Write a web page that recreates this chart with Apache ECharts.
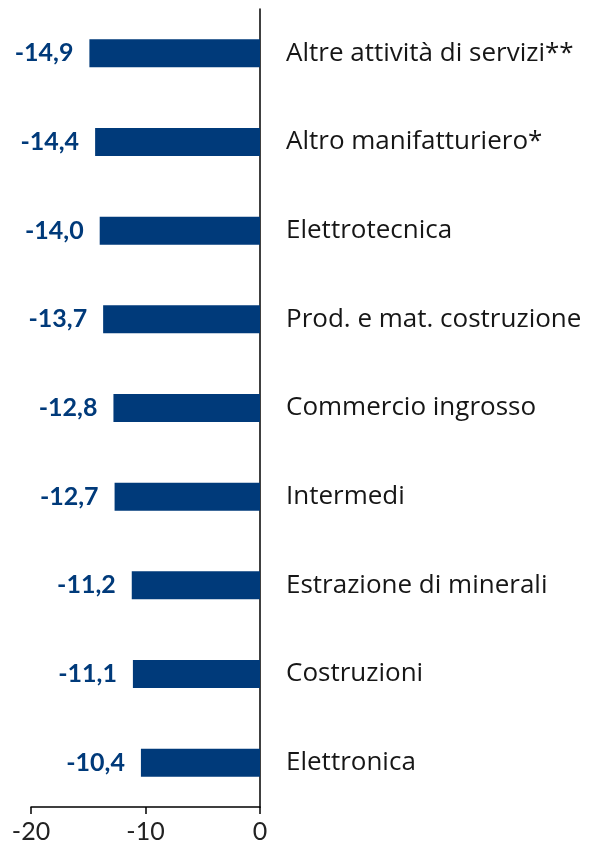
<!DOCTYPE html>
<html>
<head>
<meta charset="utf-8">
<script src="https://cdn.jsdelivr.net/npm/echarts@6/dist/echarts.min.js"></script>
<style>
html, body { margin: 0; padding: 0; background: #fff; }
#chart { width: 597px; height: 853px; }
</style>
</head>
<body>
<div id="chart"></div>
<script>
const categories = [
  'Altre attività di servizi**',
  'Altro manifatturiero*',
  'Elettrotecnica',
  'Prod. e mat. costruzione',
  'Commercio ingrosso',
  'Intermedi',
  'Estrazione di minerali',
  'Costruzioni',
  'Elettronica'
];
const values = [-14.9, -14.4, -14.0, -13.7, -12.8, -12.7, -11.2, -11.1, -10.4];

const FONT = 'Lato, "Open Sans", sans-serif';
const CAT_FONT = '"Open Sans", Lato, sans-serif';
const BLUE = '#003a7a';

const chart = echarts.init(document.getElementById('chart'), null, { renderer: 'canvas' });

chart.setOption({
  animation: false,
  backgroundColor: '#fff',
  grid: { left: 31, right: 337, top: 9, bottom: 46, containLabel: false },
  xAxis: {
    type: 'value',
    min: -20,
    max: 0,
    interval: 10,
    axisLine: { show: true, lineStyle: { color: '#000', width: 1.5 } },
    axisTick: { show: true, length: 7, lineStyle: { color: '#000', width: 1.5 } },
    axisLabel: {
      color: '#222',
      fontSize: 25,
      fontFamily: FONT,
      margin: 12,
      formatter: v => String(v)
    },
    splitLine: { show: false }
  },
  yAxis: {
    type: 'category',
    data: categories,
    inverse: true,
    position: 'right',
    axisLine: { show: true, onZero: false, lineStyle: { color: '#000', width: 1.5 } },
    axisTick: { show: false },
    axisLabel: {
      color: '#161616',
      fontSize: 26,
      fontFamily: CAT_FONT,
      margin: 26
    }
  },
  series: [{
    type: 'bar',
    data: values,
    barWidth: 28,
    itemStyle: { color: BLUE },
    label: {
      show: true,
      position: 'left',
      distance: 16,
      color: BLUE,
      fontSize: 25,
      fontWeight: 'bold',
      fontFamily: FONT,
      formatter: p => p.value.toFixed(1).replace('.', ',')
    }
  }]
});
</script>
</body>
</html>
